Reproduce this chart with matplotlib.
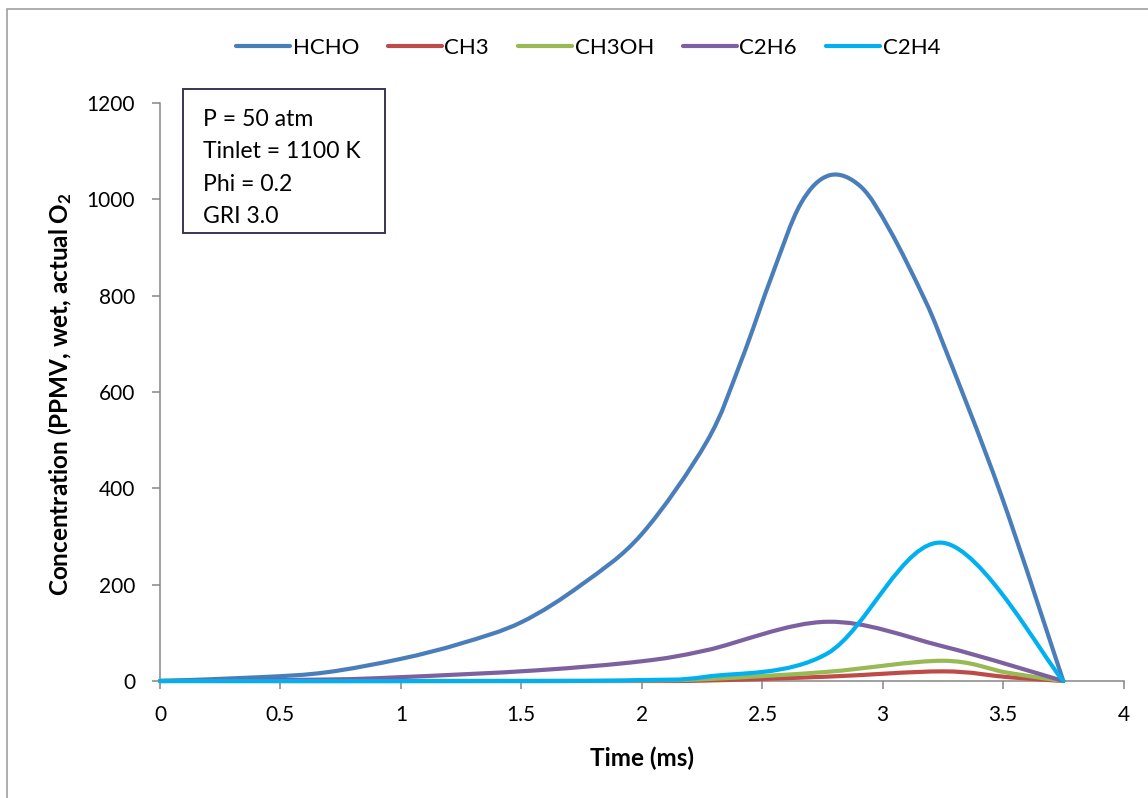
import numpy as np
import matplotlib
matplotlib.use("Agg")
import matplotlib.pyplot as plt
from matplotlib.path import Path
from matplotlib.patches import PathPatch, Rectangle
from matplotlib.lines import Line2D
from matplotlib.ticker import FuncFormatter

plt.rcParams['font.family'] = ['Lato', 'DejaVu Sans']
plt.rcParams['mathtext.default'] = 'regular'

# ---- data: time (ms) and concentration (ppmv) per species ----
series_names = ["HCHO", "CH3", "CH3OH", "C2H6", "C2H4"]
series_colors = ["#4A7EBB", "#BE4B48", "#98B954", "#7D60A0", "#00B0F0"]

hcho_t = [0, 0.42, 0.69, 1.0, 1.25, 1.5, 1.75, 2.0, 2.27, 2.41, 2.54, 2.66,
          2.78, 2.91, 3.03, 3.17, 3.25, 3.49, 3.75]
hcho_c = [0, 8, 18, 46, 78, 122, 200, 305, 497, 661, 841, 991,
          1050, 1026, 936, 797, 702, 389, 0]

ch3_t = [0, 1.56, 2.0, 2.27, 2.77, 3.25, 3.52, 3.75]
ch3_c = [0, 0, 0, 1, 9, 20, 8, 0]

ch3oh_t = [0, 1.56, 2.0, 2.27, 2.77, 3.25, 3.52, 3.75]
ch3oh_c = [0, 0, 1, 4, 19, 42, 17, 0]

c2h6_t = [0, 0.69, 1.0, 1.56, 2.0, 2.27, 2.77, 3.25, 3.75]
c2h6_c = [0, 3, 8, 22, 41, 64, 123, 72, 0]

c2h4_t = [0, 1.56, 2.0, 2.27, 2.77, 3.25, 3.75]
c2h4_c = [0, 0, 2, 9, 57, 287, 0]

series_t = [hcho_t, ch3_t, ch3oh_t, c2h6_t, c2h4_t]
series_c = [hcho_c, ch3_c, ch3oh_c, c2h6_c, c2h4_c]

x_ticks = [0, 0.5, 1, 1.5, 2, 2.5, 3, 3.5, 4]
y_ticks = [0, 200, 400, 600, 800, 1000, 1200]

box_lines = ["P = 50 atm", "Tinlet = 1100 K", "Phi = 0.2", "GRI 3.0"]


def smooth_path(xs, ys):
    """Smoothed line through the points (cubic Bezier, Catmull-Rom tangents)."""
    pts = np.column_stack([xs, ys]).astype(float)
    n = len(pts)
    verts = [pts[0]]
    codes = [Path.MOVETO]
    for i in range(n - 1):
        p0 = pts[i - 1] if i > 0 else pts[i]
        p1 = pts[i]
        p2 = pts[i + 1]
        p3 = pts[i + 2] if i + 2 < n else pts[i + 1]
        verts += [p1 + (p2 - p0) / 6.0, p2 - (p3 - p1) / 6.0, p2]
        codes += [Path.CURVE4] * 3
    return Path(verts, codes)


W, H = 1148, 798
fig = plt.figure(figsize=(W / 100, H / 100), dpi=100)
fig.patch.set_facecolor("white")

# chart-area frame (left and top edges visible)
fig.patches.append(Rectangle((7 / W, -0.5), 2.0, 1.5 - 9 / H, transform=fig.transFigure,
                             fill=False, ec="#A0A0A0", lw=1.2, zorder=0))

ax = fig.add_axes([160 / W, 1 - 681 / H, (1123.5 - 160) / W, (681 - 103) / H])
ax.set_xlim(0, 4)
ax.set_ylim(0, 1200)

for i, (t, c) in enumerate(zip(series_t, series_c)):
    patch = PathPatch(smooth_path(t, c), fill=False, ec=series_colors[i], lw=3.0,
                      capstyle="round", joinstyle="round", clip_on=False, zorder=3 + i)
    ax.add_patch(patch)

ax.set_xticks(x_ticks)
ax.set_yticks(y_ticks)
ax.xaxis.set_major_formatter(FuncFormatter(lambda v, p: f"{v:g}"))
ax.yaxis.set_major_formatter(FuncFormatter(lambda v, p: f"{v:g}"))

for side in ("top", "right"):
    ax.spines[side].set_visible(False)
for side in ("left", "bottom"):
    ax.spines[side].set_color("#868686")
    ax.spines[side].set_linewidth(1.1)
ax.tick_params(axis="both", direction="out", length=6, width=1.1, color="#868686",
               labelsize=15, labelcolor="black")
ax.tick_params(axis="y", pad=12)
ax.tick_params(axis="x", pad=11)

ax.set_xlabel("Time (ms)", fontsize=17.5, fontweight="bold", va="center")
ax.xaxis.set_label_coords(0.5, (681 - 758) / 578)
ax.set_ylabel(r"Concentration (PPMV, wet, actual O$_\mathregular{2}$", fontsize=17.5,
              fontweight="bold", rotation=90, va="center", ha="center",
              rotation_mode="default")
ax.yaxis.set_label_coords((60 - 160) / 963.5, (681 - 394) / 578)

# condition box
fig.patches.append(Rectangle((182.7 / W, 1 - 233.3 / H), (385 - 182.7) / W, (233.3 - 89.3) / H,
                             transform=fig.transFigure, fill=False, ec="#3C3352", lw=1.4,
                             zorder=5))
for k, line in enumerate(box_lines):
    fig.text(203 / W, 1 - (126 + 32.3 * k) / H, line, fontsize=16.6, va="baseline",
             ha="left", color="black")

handles = [Line2D([], [], color=c, lw=3.0, solid_capstyle="round") for c in series_colors]
fig.legend(handles, series_names, loc="center", bbox_to_anchor=(588 / W, 1 - 48 / H),
           ncol=5, frameon=False, fontsize=16, handlelength=2.45, handletextpad=0.1,
           columnspacing=1.3, borderpad=0, borderaxespad=0)

fig.savefig("out.png", dpi=100, facecolor="white")
